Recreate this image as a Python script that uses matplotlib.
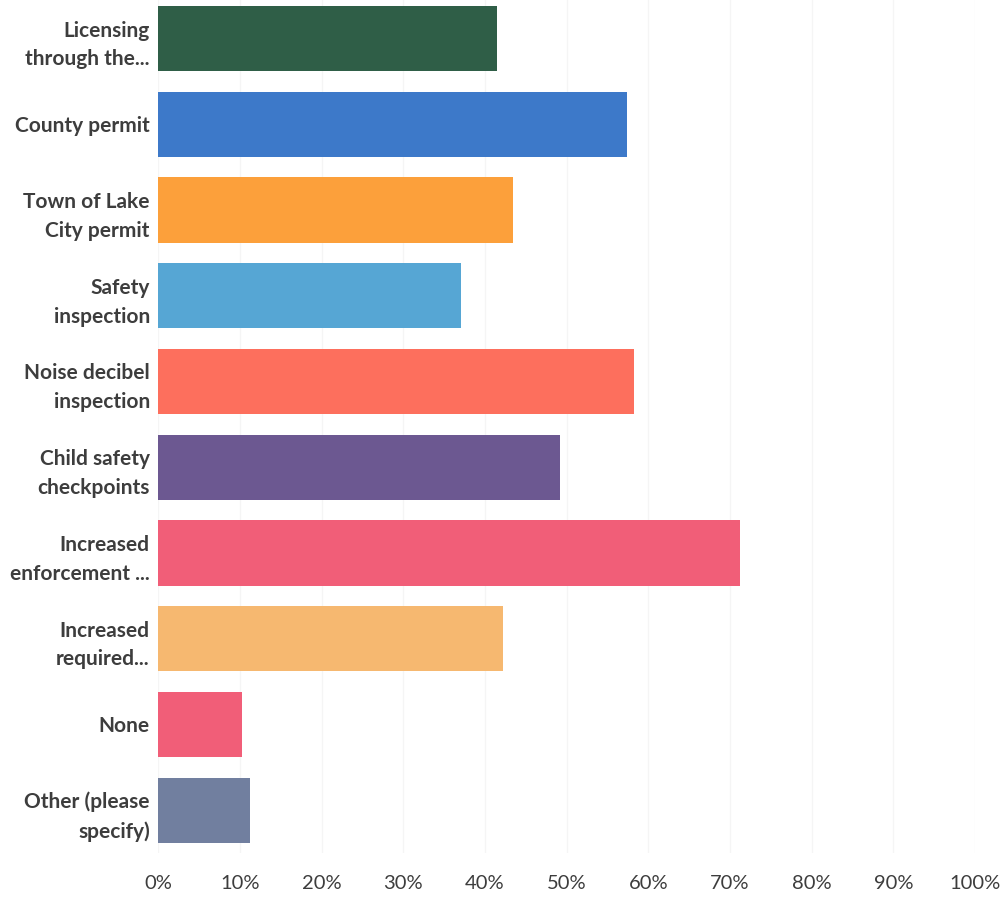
from matplotlib import pyplot as plt
from matplotlib.ticker import FuncFormatter

categories = [
    'Licensing\nthrough the...',
    'County permit',
    'Town of Lake\nCity permit',
    'Safety\ninspection',
    'Noise decibel\ninspection',
    'Child safety\ncheckpoints',
    'Increased\nenforcement ...',
    'Increased\nrequired...',
    'None',
    'Other (please\nspecify)',
]
percentages = [41.5, 57.4, 43.5, 37.1, 58.3, 49.2, 71.2, 42.2, 10.3, 11.3]
bar_colors = ['#2f5e47', '#3d79c9', '#fca03b', '#56a6d4', '#fd6f5d',
              '#6c5891', '#f15e78', '#f6b870', '#f15e78', '#717f9f']
x_ticks = [0, 10, 20, 30, 40, 50, 60, 70, 80, 90, 100]

plt.rcParams['font.family'] = ['Lato', 'DejaVu Sans']

fig = plt.figure(figsize=(10.01, 9.01), dpi=100)
ax = fig.add_axes([0.158, 0.0533, 0.816, 0.9467])

y = list(range(len(categories)))
ax.barh(y, percentages, height=0.76, color=bar_colors, zorder=2)

ax.set_xlim(0, 100)
ax.set_ylim(9.5, -0.45)
ax.set_xticks(x_ticks)
ax.xaxis.set_major_formatter(FuncFormatter(lambda v, _: f"{int(v)}%"))
ax.set_yticks(y)
ax.set_yticklabels(categories, ha='right', linespacing=1.55)

ax.grid(axis='x', color='#f5f5f5', linewidth=1, zorder=0)
for s in ax.spines.values():
    s.set_visible(False)
ax.tick_params(axis='both', length=0, colors='#3d3d3d')
ax.tick_params(axis='y', pad=6, labelsize=15)
ax.tick_params(axis='x', pad=16, labelsize=14.5)
for lbl in ax.get_yticklabels():
    lbl.set_fontweight('bold')

fig.savefig('out.png', dpi=100, facecolor='white')
